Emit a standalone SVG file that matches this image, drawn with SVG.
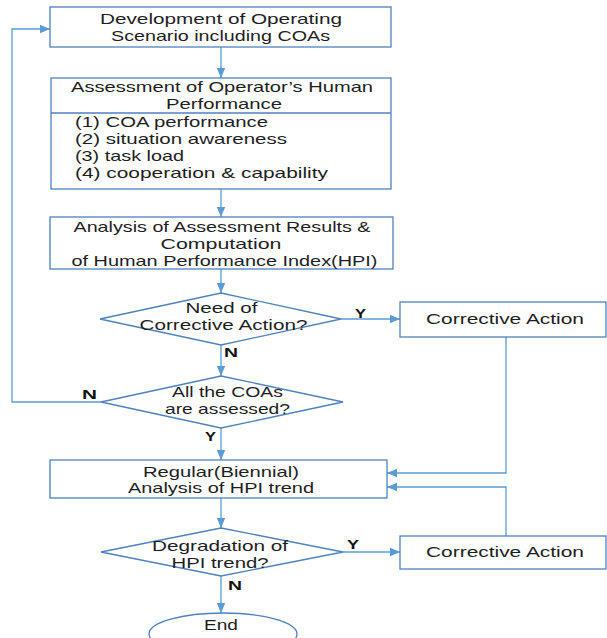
<svg xmlns="http://www.w3.org/2000/svg" width="607" height="638" viewBox="0 0 607 638">
<style>
.box{fill:#fff;stroke:#4f81bd;stroke-width:1.3}
.ln{fill:none;stroke:#5b9bd5;stroke-width:1.3}
.t{font-family:"Liberation Sans",Arial,sans-serif;font-size:15px;fill:#1e1e1e;text-anchor:middle}
.l{text-anchor:start}
.yn{font-family:"Liberation Sans",Arial,sans-serif;font-size:13px;font-weight:bold;fill:#111}
</style>
<defs>
<marker id="ah" markerUnits="userSpaceOnUse" markerWidth="10" markerHeight="10" viewBox="0 0 10 10" refX="10" refY="5" orient="auto">
<path d="M0,0.8 L10,5 L0,9.2 Z" fill="#5b9bd5"/>
</marker>
</defs>
<rect width="607" height="638" fill="#fff"/>
<g id="connectors">
<path class="ln" d="M221,47 V78" marker-end="url(#ah)"/>
<path class="ln" d="M221,189 V217" marker-end="url(#ah)"/>
<path class="ln" d="M221,269 V293" marker-end="url(#ah)"/>
<path class="ln" d="M341,319 H400" marker-end="url(#ah)"/>
<path class="ln" d="M221,345 V376" marker-end="url(#ah)"/>
<path class="ln" d="M101,402 H12 V29 H50" marker-end="url(#ah)"/>
<path class="ln" d="M221,428 V460" marker-end="url(#ah)"/>
<path class="ln" d="M506,337 V473 H387" marker-end="url(#ah)"/>
<path class="ln" d="M506,536 V487 H387" marker-end="url(#ah)"/>
<path class="ln" d="M221,498 V528" marker-end="url(#ah)"/>
<path class="ln" d="M343,552 H400" marker-end="url(#ah)"/>
<path class="ln" d="M221,576 V613" marker-end="url(#ah)"/>
<text class="yn" x="355" y="318" textLength="11" lengthAdjust="spacingAndGlyphs">Y</text>
<text class="yn" x="224" y="357" textLength="14" lengthAdjust="spacingAndGlyphs">N</text>
<text class="yn" x="82" y="399" textLength="15" lengthAdjust="spacingAndGlyphs">N</text>
<text class="yn" x="205" y="441" textLength="11" lengthAdjust="spacingAndGlyphs">Y</text>
<text class="yn" x="347" y="549" textLength="12" lengthAdjust="spacingAndGlyphs">Y</text>
<text class="yn" x="228" y="590" textLength="14" lengthAdjust="spacingAndGlyphs">N</text>
</g>
<g id="n1">
<rect class="box" x="50" y="7" width="341" height="40"/>
<text class="t" x="221" y="24" textLength="242" lengthAdjust="spacingAndGlyphs">Development of Operating</text>
<text class="t" x="220.5" y="41" textLength="219" lengthAdjust="spacingAndGlyphs">Scenario including COAs</text>
</g>
<g id="n2">
<rect class="box" x="51" y="78" width="340" height="111"/>
<line class="box" x1="51" y1="113" x2="391" y2="113"/>
<text class="t" x="222" y="92" textLength="302" lengthAdjust="spacingAndGlyphs">Assessment of Operator’s Human</text>
<text class="t" x="224" y="109" textLength="116" lengthAdjust="spacingAndGlyphs">Performance</text>
<text class="t l" x="75" y="127" textLength="193" lengthAdjust="spacingAndGlyphs">(1) COA performance</text>
<text class="t l" x="75" y="144" textLength="212" lengthAdjust="spacingAndGlyphs">(2) situation awareness</text>
<text class="t l" x="75" y="161" textLength="109" lengthAdjust="spacingAndGlyphs">(3) task load</text>
<text class="t l" x="75" y="178" textLength="253" lengthAdjust="spacingAndGlyphs">(4) cooperation &amp; capability</text>
</g>
<g id="n3">
<rect class="box" x="50" y="217" width="343" height="52"/>
<text class="t" x="222" y="232" textLength="297" lengthAdjust="spacingAndGlyphs">Analysis of Assessment Results &amp;</text>
<text class="t" x="221" y="249" textLength="121" lengthAdjust="spacingAndGlyphs">Computation</text>
<text class="t" x="224.5" y="266" textLength="306" lengthAdjust="spacingAndGlyphs">of Human Performance Index(HPI)</text>
</g>
<g id="d1">
<polygon class="box" points="221,293 341,319 221,345 100,319"/>
<text class="t" x="221.5" y="313" textLength="72" lengthAdjust="spacingAndGlyphs">Need of</text>
<text class="t" x="223.5" y="330" textLength="168" lengthAdjust="spacingAndGlyphs">Corrective Action?</text>
</g>
<g id="c1">
<rect class="box" x="400" y="302" width="206" height="35"/>
<text class="t" x="505" y="324" textLength="158" lengthAdjust="spacingAndGlyphs">Corrective Action</text>
</g>
<g id="d2">
<polygon class="box" points="221,376 343,402 221,428 101,402"/>
<text class="t" x="227.5" y="397" textLength="111" lengthAdjust="spacingAndGlyphs">All the COAs</text>
<text class="t" x="227.5" y="414" textLength="125" lengthAdjust="spacingAndGlyphs">are assessed?</text>
</g>
<g id="n4">
<rect class="box" x="50" y="460" width="337" height="38"/>
<text class="t" x="221" y="477" textLength="156" lengthAdjust="spacingAndGlyphs">Regular(Biennial)</text>
<text class="t" x="221" y="493" textLength="186" lengthAdjust="spacingAndGlyphs">Analysis of HPI trend</text>
</g>
<g id="d3">
<polygon class="box" points="221,528 343,552 221,576 101,552"/>
<text class="t" x="220" y="551" textLength="136" lengthAdjust="spacingAndGlyphs">Degradation of</text>
<text class="t" x="220" y="568" textLength="97" lengthAdjust="spacingAndGlyphs">HPI trend?</text>
</g>
<g id="c2">
<rect class="box" x="400" y="536" width="206" height="33"/>
<text class="t" x="505" y="557" textLength="158" lengthAdjust="spacingAndGlyphs">Corrective Action</text>
</g>
<g id="end">
<ellipse class="box" cx="223" cy="634" rx="74" ry="21"/>
<text class="t" x="221" y="630" textLength="34" lengthAdjust="spacingAndGlyphs">End</text>
</g>
</svg>
